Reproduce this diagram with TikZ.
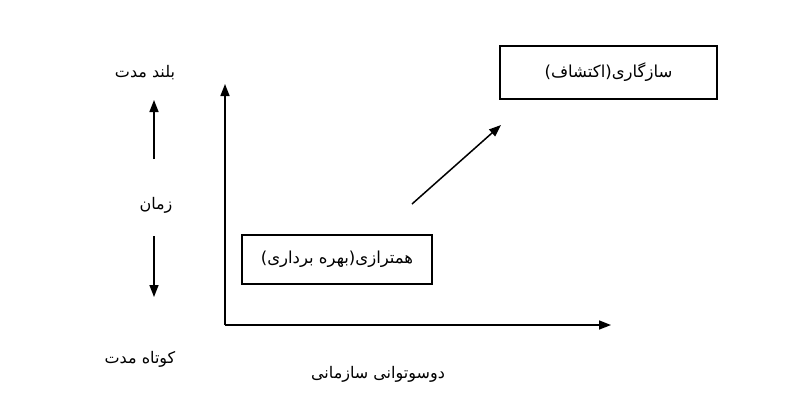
\documentclass[tikz,border=0pt]{standalone}
\usepackage{fontspec}
\newfontfamily\arabicfont[Script=Arabic]{DejaVu Sans}
\TeXXeTstate=1
\usetikzlibrary{arrows.meta}
\begin{document}
\begin{tikzpicture}[x=1pt,y=-1pt,
  lbl/.style={inner sep=0pt,font=\arabicfont\fontsize{16}{18}\selectfont},
  boxnode/.style={draw,line width=1.3pt,inner sep=0pt,font=\arabicfont\fontsize{16.5}{19}\selectfont},
  arr/.style={line width=1.5pt,-{Triangle[length=12pt,width=9pt]}}]
\useasboundingbox (0,0) rectangle (800,400);
% axes
\coordinate (o) at (225,325);
\coordinate (ytip) at (225,84);
\coordinate (xtip) at (611,325);
\draw[arr] (o) -- (ytip);
\draw[arr] (o) -- (xtip);
% boxes
\node[boxnode,minimum width=217pt,minimum height=53pt] (expl) at (608.5,72.5) {\beginR سازگاری(اکتشاف)\endR};
\node[boxnode,minimum width=190pt,minimum height=49pt] (align) at (337,259.5) {\beginR همترازی(بهره برداری)\endR};
% diagonal arrow
\coordinate (d1) at (412,204);
\coordinate (d2) at (501,125);
\draw[arr] (d1) -- (d2);
% time labels
\node[lbl] (long) at (145,73) {\beginR بلند مدت\endR};
\node[lbl] (time) at (156,205) {\beginR زمان\endR};
\node[lbl] (short) at (140,359) {\beginR کوتاه مدت\endR};
\coordinate (u1) at (154,159);
\coordinate (u2) at (154,100);
\coordinate (w1) at (154,236);
\coordinate (w2) at (154,297);
\draw[arr] (u1) -- (u2);
\draw[arr] (w1) -- (w2);
% x label
\node[lbl] (amb) at (378,374) {\beginR دوسوتوانی سازمانی\endR};
\end{tikzpicture}
\end{document}
